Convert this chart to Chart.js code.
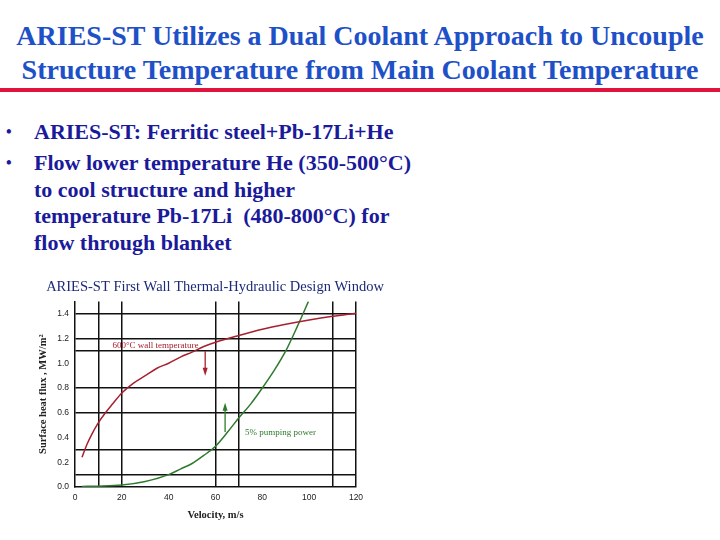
<!DOCTYPE html>
<html>
<head>
<meta charset="utf-8">
<script src="https://cdn.jsdelivr.net/npm/chart.js@4.4.0/dist/chart.umd.min.js"></script>
<style>
  body { margin: 0; width: 720px; height: 540px; background: #fff; position: relative; overflow: hidden; font-family: "Liberation Serif", "Times New Roman", serif; }
  .title { position: absolute; left: 0; top: 19px; width: 720px; text-align: center; color: #1e50c8; font-weight: bold; font-size: 28px; line-height: 34px; white-space: nowrap; }
  .rule { position: absolute; left: 0; top: 88px; width: 720px; height: 4px; background: #e0143c; }
  .bullets { position: absolute; left: 0; top: 119px; color: #1a1a9a; font-weight: bold; font-size: 22px; line-height: 26.5px; }
  .item { position: relative; padding-left: 34px; margin-bottom: 4.5px; white-space: nowrap; }
  .item .dot { position: absolute; left: 6px; top: 0; font-size: 16px; }
  .chart-box { position: absolute; left: 20px; top: 272px; width: 400px; height: 262px; }
</style>
</head>
<body>
<div class="title">ARIES-ST Utilizes a Dual Coolant Approach to Uncouple<br>Structure Temperature from Main Coolant Temperature</div>
<div class="rule"></div>
<div class="bullets">
  <div class="item"><span class="dot">•</span>ARIES-ST: Ferritic steel+Pb-17Li+He</div>
  <div class="item"><span class="dot">•</span>Flow lower temperature He (350-500°C)<br>to cool structure and higher<br>temperature Pb-17Li &nbsp;(480-800°C) for<br>flow through blanket</div>
</div>
<div class="chart-box"><canvas id="design-window"></canvas></div>

<script>
// 600°C wall temperature limit (upper curve)
const wallVelocity = [3, 5, 7, 10, 13, 16, 20, 25, 30, 35, 40, 45, 50, 55, 60, 70, 80, 90, 100, 110, 120];
const wallFlux     = [0.24, 0.34, 0.42, 0.52, 0.60, 0.67, 0.76, 0.84, 0.90, 0.96, 1.00, 1.05, 1.09, 1.135, 1.17, 1.225, 1.275, 1.315, 1.35, 1.38, 1.405];

// 5% pumping power limit (rising curve)
const pumpVelocity = [3, 10, 20, 30, 40, 45, 50, 55, 60, 65, 70, 75, 80, 85, 90, 95, 99.7];
const pumpFlux     = [0.005, 0.007, 0.016, 0.045, 0.10, 0.145, 0.19, 0.255, 0.33, 0.44, 0.56, 0.67, 0.80, 0.94, 1.10, 1.30, 1.50];

// axis labels and the (irregular) grid lines of the original plot
const xLabelTicks = [0, 20, 40, 60, 80, 100, 120];
const xGridLines  = [10, 20, 60, 70, 110, 120];
const yLabelTicks = [0, 0.2, 0.4, 0.6, 0.8, 1.0, 1.2, 1.4];
const yGridLines  = [0.1, 0.3, 0.6, 0.8, 1.1, 1.2, 1.4];

const notes = [
  { text: "600°C wall temperature", x: 16, y: 1.14, color: "#a8202e" },
  { text: "5% pumping power", x: 72.6, y: 0.437, color: "#2e7a2e" }
];
const arrows = [
  { x: 55.6, from: 1.10, to: 0.90, color: "#a8202e" },
  { x: 64.1, from: 0.445, to: 0.68, color: "#2e7a2e" }
];

function merge(a, b){
  return [...new Set([...a, ...b])].sort((p, q) => p - q);
}

function toPoints(xs, ys){
  return xs.map((x, i) => ({ x, y: ys[i] }));
}

const notesPlugin = {
  id: "notes",
  afterDatasetsDraw(chart){
    const { ctx, scales: { x, y } } = chart;
    ctx.save();
    ctx.font = '9px "Liberation Serif", serif';
    ctx.textBaseline = "middle";
    for(const n of notes){
      ctx.fillStyle = n.color;
      ctx.fillText(n.text, x.getPixelForValue(n.x), y.getPixelForValue(n.y));
    }
    for(const a of arrows){
      const px = x.getPixelForValue(a.x);
      const y0 = y.getPixelForValue(a.from);
      const y1 = y.getPixelForValue(a.to);
      const dir = y1 > y0 ? 1 : -1;
      ctx.strokeStyle = a.color;
      ctx.fillStyle = a.color;
      ctx.lineWidth = 1.3;
      ctx.beginPath();
      ctx.moveTo(px, y0);
      ctx.lineTo(px, y1 - dir * 6);
      ctx.stroke();
      ctx.beginPath();
      ctx.moveTo(px, y1);
      ctx.lineTo(px - 2.5, y1 - dir * 8);
      ctx.lineTo(px + 2.5, y1 - dir * 8);
      ctx.closePath();
      ctx.fill();
    }
    ctx.restore();
  }
};

const xAll = merge(xLabelTicks, xGridLines);
const yAll = merge(yLabelTicks, yGridLines);

new Chart(document.getElementById("design-window"), {
  type: "line",
  data: {
    datasets: [
      {
        label: "600°C wall temperature",
        data: toPoints(wallVelocity, wallFlux),
        borderColor: "#a8202e",
        borderWidth: 1.5,
        pointRadius: 0,
        cubicInterpolationMode: "monotone",
        fill: false
      },
      {
        label: "5% pumping power",
        data: toPoints(pumpVelocity, pumpFlux),
        borderColor: "#2e7a2e",
        borderWidth: 1.5,
        pointRadius: 0,
        cubicInterpolationMode: "monotone",
        fill: false
      }
    ]
  },
  options: {
    responsive: true,
    maintainAspectRatio: false,
    animation: false,
    layout: { padding: { left: 0, right: 10, top: 0, bottom: 0 } },
    plugins: {
      legend: { display: false },
      tooltip: { enabled: false },
      title: {
        display: true,
        text: "ARIES-ST First Wall Thermal-Hydraulic Design Window",
        color: "#1c2a78",
        font: { family: '"Liberation Serif", serif', size: 14.5, weight: "normal" },
        padding: { top: 6, bottom: 6 }
      }
    },
    scales: {
      x: {
        type: "linear",
        min: 0,
        max: 120,
        afterBuildTicks: axis => { axis.ticks = xAll.map(v => ({ value: v })); },
        afterFit: axis => { axis.height = 47; },
        grid: {
          drawTicks: false,
          lineWidth: 1.5,
          color: c => xGridLines.includes(c.tick.value) ? "#111" : "rgba(0,0,0,0)"
        },
        border: { display: true, color: "#111", width: 1.5 },
        ticks: {
          autoSkip: false,
          maxRotation: 0,
          padding: 6,
          color: "#222",
          font: { family: '"Liberation Sans", sans-serif', size: 8.5 },
          callback: v => xLabelTicks.includes(v) ? String(v) : ""
        },
        title: {
          display: true,
          text: "Velocity, m/s",
          color: "#222",
          font: { family: '"Liberation Serif", serif', size: 10.5, weight: "bold" },
          padding: { top: 8, bottom: 12 }
        }
      },
      y: {
        type: "linear",
        min: 0,
        max: 1.5,
        afterBuildTicks: axis => { axis.ticks = yAll.map(v => ({ value: v })); },
        afterFit: axis => { axis.width = 55; },
        grid: {
          drawTicks: false,
          lineWidth: 1.5,
          color: c => yGridLines.includes(c.tick.value) ? "#111" : "rgba(0,0,0,0)"
        },
        border: { display: true, color: "#111", width: 1.5 },
        ticks: {
          autoSkip: false,
          padding: 6,
          color: "#222",
          font: { family: '"Liberation Sans", sans-serif', size: 8.5 },
          callback: v => yLabelTicks.includes(v) ? v.toFixed(1) : ""
        },
        title: {
          display: true,
          text: "Surface heat flux , MW/m²",
          color: "#222",
          font: { family: '"Liberation Serif", serif', size: 10.5, weight: "bold" },
          padding: { top: 17, bottom: 0 }
        }
      },
      // empty right-hand margin so the chart title centres over the plot
      yr: {
        type: "linear",
        position: "right",
        min: 0,
        max: 1.5,
        afterFit: axis => { axis.width = 54; },
        grid: { display: false },
        border: { display: false },
        ticks: { display: false }
      }
    }
  },
  plugins: [notesPlugin]
});
</script>
</body>
</html>
